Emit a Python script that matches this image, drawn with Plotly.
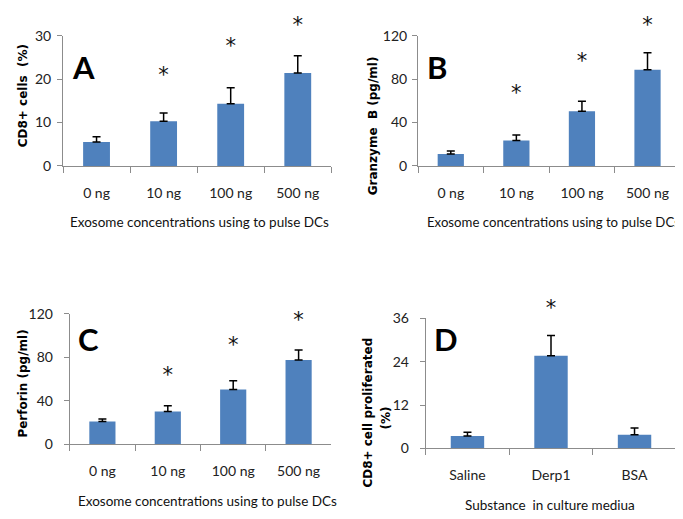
import plotly.graph_objects as go

W, H = 683, 519

# ---------------- data ----------------
conc_labels = ["0 ng", "10 ng", "100 ng", "500 ng"]
cd8_pct = [5.5, 10.3, 14.3, 21.4]
cd8_err = [1.2, 1.9, 3.7, 4.0]
cd8_star = [None, 18.1, 24.7, 29.6]

granzyme = [11.0, 23.5, 50.5, 88.5]
granzyme_err = [2.7, 5.0, 9.2, 15.8]
granzyme_star = [None, 55.5, 85.2, 118.8]

perforin = [20.8, 30.0, 50.4, 77.3]
perforin_err = [2.3, 5.3, 8.0, 9.3]
perforin_star = [None, 52.4, 79.5, 103.2]

substances = ["Saline", "Derp1", "BSA"]
prolif = [3.4, 25.7, 3.75]
prolif_err = [1.1, 5.6, 1.9]
prolif_star = [None, 35.4, None]

y_ticks_A = [0, 10, 20, 30]
y_ticks_B = [0, 40, 80, 120]
y_ticks_C = [0, 40, 80, 120]
y_ticks_D = [0, 12, 24, 36]

BAR = "#4F81BD"
AXC = "#8C8C8C"
FONT = "Lato, Roboto, sans-serif"
TICKFONT = dict(family=FONT, size=14, color="#222222")


def px(x):
    return x / W


def py(y):
    return 1 - y / H


fig = go.Figure()

panels = [
    # name, cats, vals, errs, stars, yticks, xdom(px), ydom(px), ystandoff
    ("", conc_labels, cd8_pct, cd8_err, cd8_star, y_ticks_A, (55, 323.3), (19.3, 154), 3),
    ("2", conc_labels, granzyme, granzyme_err, granzyme_star, y_ticks_B, (410, 672.3), (19.3, 154), 2),
    ("3", conc_labels, perforin, perforin_err, perforin_star, y_ticks_C, (61.7, 323.3), (306.7, 441.7), 8),
    ("4", substances, prolif, prolif_err, prolif_star, y_ticks_D, (417.7, 668.3), (311.7, 446), 8),
]

for name, cats, vals, errs, stars, yt, xd, yd, ysoff in panels:
    xa = "x" + name
    ya = "y" + name
    fig.add_trace(go.Bar(
        x=cats, y=vals, xaxis=xa, yaxis=ya,
        marker=dict(color=BAR, line=dict(width=0)),
        width=0.4,
        error_y=dict(type="data", array=errs, arrayminus=[0] * len(errs), symmetric=False,
                     color="black", thickness=1.5, width=4),
        showlegend=False, hoverinfo="skip",
    ))
    fig.add_trace(go.Scatter(
        x=cats, y=stars, xaxis=xa, yaxis=ya, mode="text", text=["*" if s is not None else "" for s in stars],
        textposition="top center",
        textfont=dict(family="DejaVu Sans, sans-serif", size=21, color="#111111"),
        cliponaxis=False, showlegend=False, hoverinfo="skip",
    ))
    xkey = "xaxis" + name
    ykey = "yaxis" + name
    fig.layout[xkey] = dict(
        domain=[px(xd[0]), px(xd[1])], anchor=ya, type="category",
        showline=True, linecolor=AXC, linewidth=1,
        ticks="outside", tickson="boundaries", ticklen=6, tickcolor=AXC,
        tickfont=TICKFONT, ticklabelstandoff=14, showgrid=False, zeroline=False,
        fixedrange=True,
    )
    fig.layout[ykey] = dict(
        domain=[py(yd[1]), py(yd[0])], anchor=xa, range=[0, yt[-1]],
        tickvals=yt, showline=True, linecolor=AXC, linewidth=1,
        ticks="outside", ticklen=5, tickcolor=AXC, tickfont=TICKFONT,
        ticklabelstandoff=ysoff, showgrid=False, zeroline=False, fixedrange=True,
    )

annotations = []

# panel letters
for letter, (cx, cy) in zip("ABCD", [(75.5, 52), (428.5, 52), (80, 333), (437.5, 333)]):
    annotations.append(dict(text="<b>" + letter + "</b>", x=px(cx), y=py(cy), xref="paper", yref="paper",
                            showarrow=False, xanchor="center", yanchor="middle",
                            font=dict(family=FONT, size=31, color="black")))

# y-axis titles
ytitle_font = dict(family="DejaVu Sans, sans-serif", size=12, color="black")
for txt, cx, cy in [("CD8+ cells  (%)", 15, 82),
                    ("Granzyme  B (pg/ml)", 365, 113),
                    ("Perforin (pg/ml)", 15, 379),
                    ("CD8+ cell proliferated", 360, 409),
                    ("(%)", 378, 415)]:
    annotations.append(dict(text="<b>" + txt + "</b>", x=px(cx), y=py(cy), xref="paper", yref="paper",
                            showarrow=False, textangle=-90, xanchor="center", yanchor="middle",
                            font=ytitle_font))

# x-axis titles
for txt, cx, cy, anc, fs in [("Exosome concentrations using to pulse DCs", 191, 212, "center", 13.5),
                             ("Exosome concentrations using to pulse DCs", 674, 212, "right", 13.2),
                             ("Exosome concentrations using to pulse DCs", 199, 500, "center", 13.5),
                             ("Substance  in culture mediua", 542, 505, "center", 13.5)]:
    annotations.append(dict(text=txt, x=px(cx), y=py(cy), xref="paper", yref="paper",
                            showarrow=False, xanchor=anc, yanchor="middle",
                            font=dict(family=FONT, size=fs, color="#111111")))

fig.update_layout(
    width=W, height=H,
    margin=dict(l=0, r=0, t=0, b=0),
    paper_bgcolor="white", plot_bgcolor="white",
    annotations=annotations,
    bargap=0.6,
)

fig.write_html("out.html", config={"displayModeBar": False})
